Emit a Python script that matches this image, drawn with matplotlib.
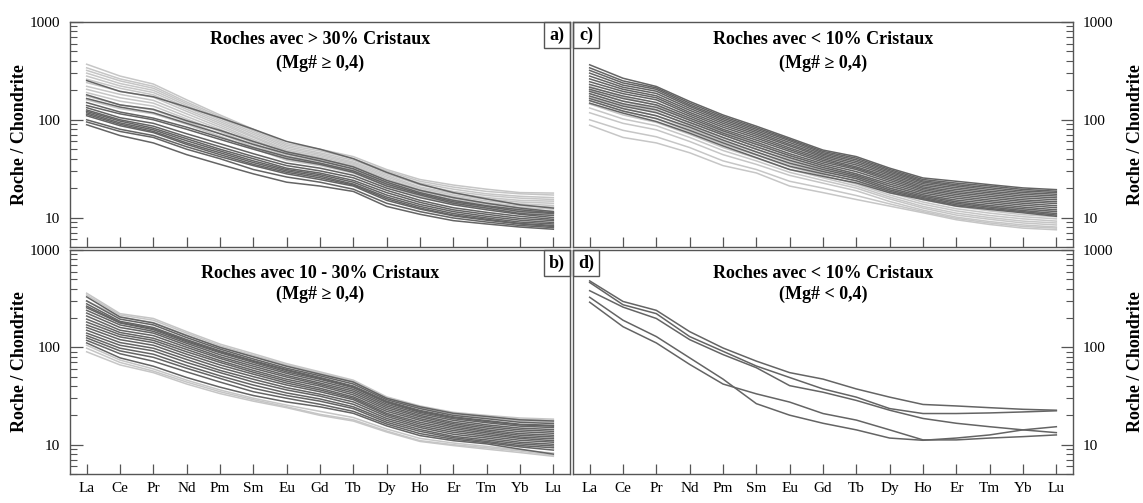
import numpy as np
import matplotlib
matplotlib.use("Agg")
import matplotlib.pyplot as plt
from matplotlib.patches import Rectangle

plt.rcParams['font.family'] = ['Liberation Serif', 'DejaVu Serif']

elements = ['La', 'Ce', 'Pr', 'Nd', 'Pm', 'Sm', 'Eu', 'Gd', 'Tb', 'Dy', 'Ho', 'Er', 'Tm', 'Yb', 'Lu']

# panel a : > 30% cristaux
a_light = [
    [370, 280, 232, 160, 112, 80, 57, 50, 42, 31, 24.5, 21.5, 19.5, 18, 17.8],
    [340, 262, 220, 152, 108, 77, 55, 48, 40, 30, 23.5, 20.5, 18.5, 17.5, 17],
    [320, 250, 210, 146, 104, 74, 53, 46, 38.5, 29, 22.5, 19.5, 17.5, 16.5, 16],
    [300, 235, 200, 140, 100, 71, 51, 44.5, 37, 28, 21.5, 18.5, 16.8, 15.8, 15.3],
    [280, 222, 190, 134, 96, 68, 49, 43, 36, 27, 20.5, 17.7, 16, 15, 14.7],
    [260, 210, 180, 128, 92, 66, 47.5, 41.5, 35, 26, 20, 17, 15.4, 14.4, 14],
    [240, 196, 170, 122, 88, 63, 46, 40, 34, 25, 19.3, 16.4, 14.8, 13.8, 13.3],
    [220, 182, 158, 115, 84, 61, 44, 39, 33, 24, 18.6, 15.8, 14.2, 13.2, 12.8],
    [205, 168, 148, 108, 80, 58, 42.5, 37.5, 31.5, 23, 18, 15.3, 13.7, 12.7, 12.2],
    [190, 155, 138, 102, 76, 55.5, 41, 36, 30.5, 22.5, 17.5, 14.8, 13.2, 12.2, 11.6],
    [175, 142, 126, 96, 72, 53, 39.5, 35, 29.5, 21.5, 17, 14.3, 12.7, 11.7, 11.1],
    [160, 130, 115, 90, 68, 51, 38.5, 34, 28.5, 21, 16.5, 13.8, 12.3, 11.3, 10.7],
]
a_dark = [
    [252, 195, 172, 135, 105, 80, 60, 50, 40, 29, 22, 18, 15.5, 13.5, 12.5],
    [180, 142, 128, 98, 78, 60, 47, 40, 33, 24, 19, 16, 14, 12.5, 11.5],
    [165, 135, 118, 92, 72, 56, 45, 38, 31.5, 23, 18, 15, 13.2, 12, 11.2],
    [150, 120, 104, 84, 66, 52, 42, 36, 30, 22, 17.5, 14.5, 13, 11.5, 11],
    [140, 115, 100, 80, 63, 50, 40, 35, 29, 21, 17, 14, 12.5, 11, 10.5],
    [133, 105, 92, 72, 57, 45, 36, 32, 27, 20, 16, 13.5, 12, 10.8, 10],
    [126, 100, 86, 67, 53, 42, 34, 30, 25.5, 19, 15, 12.6, 11.3, 10.3, 9.6],
    [122, 97, 82, 64, 50, 40, 32, 28.5, 24, 18, 14.3, 12, 10.8, 9.8, 9.3],
    [118, 93, 79, 61, 48, 38, 31, 27.5, 23, 17, 13.6, 11.5, 10.3, 9.4, 8.9],
    [114, 90, 76, 58, 46, 36.5, 30, 26.5, 22, 16.2, 13, 11, 9.9, 9.0, 8.6],
    [110, 87, 74, 56, 44, 35, 29, 25.5, 21.5, 15.6, 12.5, 10.6, 9.6, 8.7, 8.3],
    [100, 80, 69, 53, 42, 34, 28, 24.5, 21, 15, 12.2, 10.4, 9.4, 8.6, 8.1],
    [95, 76, 66, 50, 40, 31, 26, 23, 19.5, 14, 11.5, 9.9, 9.0, 8.3, 7.9],
    [89, 69, 58, 44, 35, 28, 23, 21, 18.5, 13, 10.8, 9.3, 8.6, 8.0, 7.6],
]

# panel b : 10 - 30% cristaux
b_light = [
    [360, 222, 198, 145, 108, 86, 68, 56, 46, 31, 25, 21.5, 20, 18.8, 18.3],
    [345, 215, 190, 140, 104, 83, 66, 54.5, 45, 30.5, 24.5, 21, 19.5, 18.3, 17.8],
    [300, 205, 180, 134, 100, 80, 64, 53, 44, 30, 24, 20.5, 19, 17.5, 17],
    [105, 74, 60, 46, 36.5, 30, 25.5, 22, 19, 14.5, 11.6, 10.4, 9.6, 8.8, 8.2],
    [98, 70, 57, 44, 35, 29, 24.5, 20.5, 18, 13.8, 11, 10, 9.3, 8.6, 7.8],
    [90, 66, 55, 42, 33.5, 28, 24, 20, 17.5, 13.5, 10.8, 9.8, 9.0, 8.3, 7.6],
]
b_dark = [
    [330, 205, 178, 132, 100, 80, 64, 53, 44, 30, 24.5, 21, 19.5, 18, 17.5],
    [300, 195, 170, 126, 96, 76, 61, 51, 42, 29, 23.5, 20, 18.5, 17, 16.5],
    [280, 185, 160, 120, 92, 73, 59, 49, 40, 28, 22.5, 19.3, 17.7, 16.2, 15.8],
    [265, 180, 156, 117, 90, 72, 58, 48, 39.5, 27.5, 22, 19, 17.3, 16, 15.5],
    [255, 178, 152, 114, 88, 70, 56, 47, 38.5, 27, 21.5, 18.5, 16.8, 15.5, 15],
    [240, 170, 146, 110, 84, 67, 54, 45, 37, 26, 20.8, 17.8, 16, 14.8, 14.3],
    [225, 160, 140, 105, 80, 64, 51.5, 43, 35.5, 25, 20, 17, 15.4, 14.2, 13.7],
    [210, 150, 132, 100, 77, 61, 49.5, 41.5, 34, 24, 19.3, 16.4, 14.8, 13.6, 13.1],
    [195, 142, 124, 95, 73, 58, 47, 40, 32.5, 23, 18.5, 15.8, 14.2, 13, 12.5],
    [182, 135, 118, 90, 70, 55.5, 45, 38, 31, 22, 17.8, 15.2, 13.7, 12.5, 12],
    [170, 128, 112, 85, 66, 53, 43, 36.5, 30, 21, 17, 14.6, 13.2, 12, 11.5],
    [160, 120, 105, 80, 62, 50, 41, 35, 29, 20.3, 16.3, 14, 12.7, 11.6, 11],
    [150, 112, 98, 75, 58, 47, 38.5, 33, 27.5, 19.5, 15.6, 13.4, 12.2, 11.1, 10.6],
    [140, 105, 92, 70, 55, 44, 36.5, 31.5, 26, 18.6, 15, 12.8, 11.7, 10.6, 10.1],
    [132, 98, 85, 65, 51, 41, 34, 29.5, 24.5, 17.8, 14.3, 12.2, 11.2, 10.2, 9.7],
    [125, 92, 79, 61, 48, 38, 32, 28, 23.5, 17, 13.7, 11.8, 10.8, 9.8, 9.3],
    [118, 86, 72, 56, 44, 35, 30, 26, 22, 16.3, 13, 11.4, 10.5, 9.5, 8.8],
    [111, 78, 64, 49, 39, 32, 27.5, 24.5, 21, 15.6, 12.4, 11, 10.2, 9.0, 8.0],
]

# panel c : < 10% cristaux, Mg# >= 0,4
c_light = [
    [220, 170, 140, 100, 75, 57, 43, 34, 28, 21, 17, 14.5, 13, 12, 11.5],
    [200, 155, 128, 93, 70, 53, 40, 32, 26.5, 20, 16, 13.7, 12.3, 11.3, 10.8],
    [185, 143, 120, 87, 65, 50, 37.5, 30, 25, 19, 15.2, 13, 11.7, 10.7, 10.2],
    [170, 132, 110, 81, 60, 46.5, 35, 28.5, 23.5, 18, 14.4, 12.3, 11.1, 10.2, 9.7],
    [158, 122, 102, 76, 56, 43.5, 33, 27, 22, 17, 13.7, 11.7, 10.5, 9.7, 9.2],
    [145, 112, 94, 71, 52, 40.5, 31, 25.5, 21, 16.2, 13, 11.1, 10, 9.2, 8.8],
    [132, 102, 87, 66, 48.5, 38, 29, 24, 20, 15.5, 12.5, 10.6, 9.6, 8.8, 8.4],
    [118, 92, 79, 60, 44, 35, 27, 22.5, 18.8, 14.6, 11.9, 10.1, 9.1, 8.4, 8.0],
    [100, 78, 67, 52, 38, 31, 23.5, 20, 16.8, 13.8, 11.5, 9.8, 8.8, 8.1, 7.8],
    [88, 66, 58, 46, 34, 28.6, 21, 18, 15.3, 13.1, 11.2, 9.5, 8.5, 7.8, 7.5],
]
c_dark = [
    [365, 266, 219, 154, 112, 86, 65, 49, 42, 32, 25.4, 23.5, 21.7, 20.1, 19.3],
    [340, 250, 212, 148, 108, 83, 63, 47.5, 40.5, 31, 24.5, 22.5, 21, 19.4, 18.6],
    [320, 238, 205, 142, 104, 80, 61, 46, 39, 30, 23.7, 21.7, 20.2, 18.7, 18],
    [300, 226, 196, 137, 100, 77, 58.5, 44.5, 37.5, 29, 23, 21, 19.4, 18, 17.3],
    [280, 215, 186, 131, 96, 74, 56, 43, 36, 28, 22.2, 20.2, 18.6, 17.3, 16.6],
    [262, 205, 176, 125, 92, 71, 54, 41.5, 34.5, 27, 21.4, 19.4, 17.9, 16.6, 15.9],
    [245, 195, 168, 119, 88, 68, 51.5, 40, 33, 26, 20.6, 18.6, 17.2, 15.9, 15.2],
    [230, 185, 160, 114, 84, 65, 49.5, 38.5, 32, 25, 19.9, 17.9, 16.5, 15.2, 14.5],
    [215, 175, 150, 109, 80, 62, 47.5, 37, 31, 24, 19.2, 17.2, 15.8, 14.6, 13.9],
    [205, 165, 142, 104, 77, 59, 45, 35.5, 29.5, 23, 18.5, 16.5, 15.1, 14, 13.2],
    [195, 155, 134, 99, 73, 56, 43, 34, 28, 22, 17.8, 15.8, 14.5, 13.4, 12.6],
    [185, 146, 126, 94, 70, 53, 41, 32.5, 27, 21, 17.1, 15.1, 13.9, 12.8, 12],
    [175, 138, 118, 89, 66, 50, 38.5, 31, 26, 20, 16.5, 14.5, 13.3, 12.3, 11.5],
    [165, 130, 110, 84, 62, 47, 36, 29.5, 25, 19.2, 16, 14, 12.8, 11.8, 11],
    [157, 123, 103, 78, 58, 44, 33.5, 28, 23.8, 18.5, 15.6, 13.5, 12.4, 11.5, 10.6],
    [148, 117, 96, 73, 54, 41, 31, 26.4, 22.6, 17.9, 15.3, 13.1, 12.1, 11.2, 10.3],
]

# panel d : < 10% cristaux, Mg# < 0,4
d_light = []
d_dark = [
    [482, 296, 240, 145, 98.5, 72.2, 55.0, 47.2, 37.4, 30.8, 25.9, 25.0, 24.0, 23.1, 22.6],
    [464, 274, 222, 129, 91.1, 64.3, 49.0, 37.4, 30.8, 23.5, 20.9, 20.9, 21.2, 21.7, 22.3],
    [382, 259, 198, 120, 84.3, 61.8, 40.4, 34.6, 28.5, 22.6, 18.6, 16.6, 15.3, 14.2, 13.3],
    [327, 190, 129, 78, 47.2, 26.4, 20.1, 16.6, 14.2, 11.7, 11.1, 11.7, 12.6, 14.2, 15.3],
    [291, 163, 111, 66.8, 42.0, 33.3, 27.4, 20.9, 17.9, 14.2, 11.2, 11.2, 11.7, 12.1, 12.6],
]

titles = ['Roches avec > 30% Cristaux', 'Roches avec 10 - 30% Cristaux',
          'Roches avec < 10% Cristaux', 'Roches avec < 10% Cristaux']
subtitles = ['(Mg# ≥ 0,4)', '(Mg# ≥ 0,4)', '(Mg# ≥ 0,4)', '(Mg# < 0,4)']
tags = ['a)', 'b)', 'c)', 'd)']

W, H = 1143, 503
fig = plt.figure(figsize=(W / 100, H / 100), dpi=100)

# pixel boxes: left, top, right, bottom
boxes = [(70, 22, 570, 247), (70, 250, 570, 474), (573, 22, 1073, 247), (573, 250, 1073, 474)]
lights = [a_light, b_light, c_light, d_light]
darks = [a_dark, b_dark, c_dark, d_dark]

dark_col = '#646464'
light_col = '#c6c6c6'
spine_col = '#555555'
x = np.arange(len(elements))

for i in range(4):
    l, t, r, b = boxes[i]
    ax = fig.add_axes([l / W, 1 - b / H, (r - l) / W, (b - t) / H])
    for row in lights[i]:
        ax.plot(x, row, color=light_col, lw=1.1)
    for row in darks[i]:
        ax.plot(x, row, color=dark_col, lw=1.1)
    ax.set_yscale('log')
    ax.set_ylim(5, 1000)
    ax.set_xlim(-0.5, 14.5)
    ax.set_xticks(x)
    for s in ax.spines.values():
        s.set_color(spine_col)
        s.set_linewidth(1.0)
    right = i >= 2
    bottom = i in (1, 3)
    ax.tick_params(axis='x', direction='in', length=7, width=0.9, color=spine_col,
                   labelsize=11, pad=6, labelbottom=bottom)
    if bottom:
        ax.set_xticklabels(elements)
    ax.tick_params(axis='y', which='major', direction='in', length=9, width=0.9,
                   color=spine_col, labelsize=11, pad=7,
                   left=not right, right=right, labelleft=not right, labelright=right)
    ax.tick_params(axis='y', which='minor', direction='in', length=5, width=0.8,
                   color=spine_col, left=not right, right=right,
                   labelleft=False, labelright=False)
    ax.set_yticks([10, 100, 1000])
    ax.set_yticklabels(['10', '100', '1000'])

    y1, y2 = (0.924, 0.818) if not bottom else (0.897, 0.803)
    ax.text(0.5, y1, titles[i], transform=ax.transAxes, ha='center', va='center',
            fontsize=13, fontweight='bold')
    ax.text(0.5, y2, subtitles[i], transform=ax.transAxes, ha='center', va='center',
            fontsize=13, fontweight='bold')

    bw = 26 / (r - l)
    bh = 26 / (b - t)
    bx = 0 if right else 1 - bw
    ax.add_patch(Rectangle((bx, 1 - bh), bw, bh, transform=ax.transAxes, fill=False,
                           edgecolor=spine_col, lw=1.0, clip_on=False))
    ax.text(bx + bw / 2, 1 - bh / 2, tags[i], transform=ax.transAxes, ha='center',
            va='center', fontsize=13, fontweight='bold')

for yc in (134.5, 362):
    fig.text(20 / W, 1 - yc / H, 'Roche / Chondrite', rotation=90, ha='center',
             va='center', fontsize=13, fontweight='bold')
    fig.text(1135 / W, 1 - yc / H, 'Roche / Chondrite', rotation=90, ha='center',
             va='center', fontsize=13, fontweight='bold')

fig.savefig('out.png', dpi=100)
